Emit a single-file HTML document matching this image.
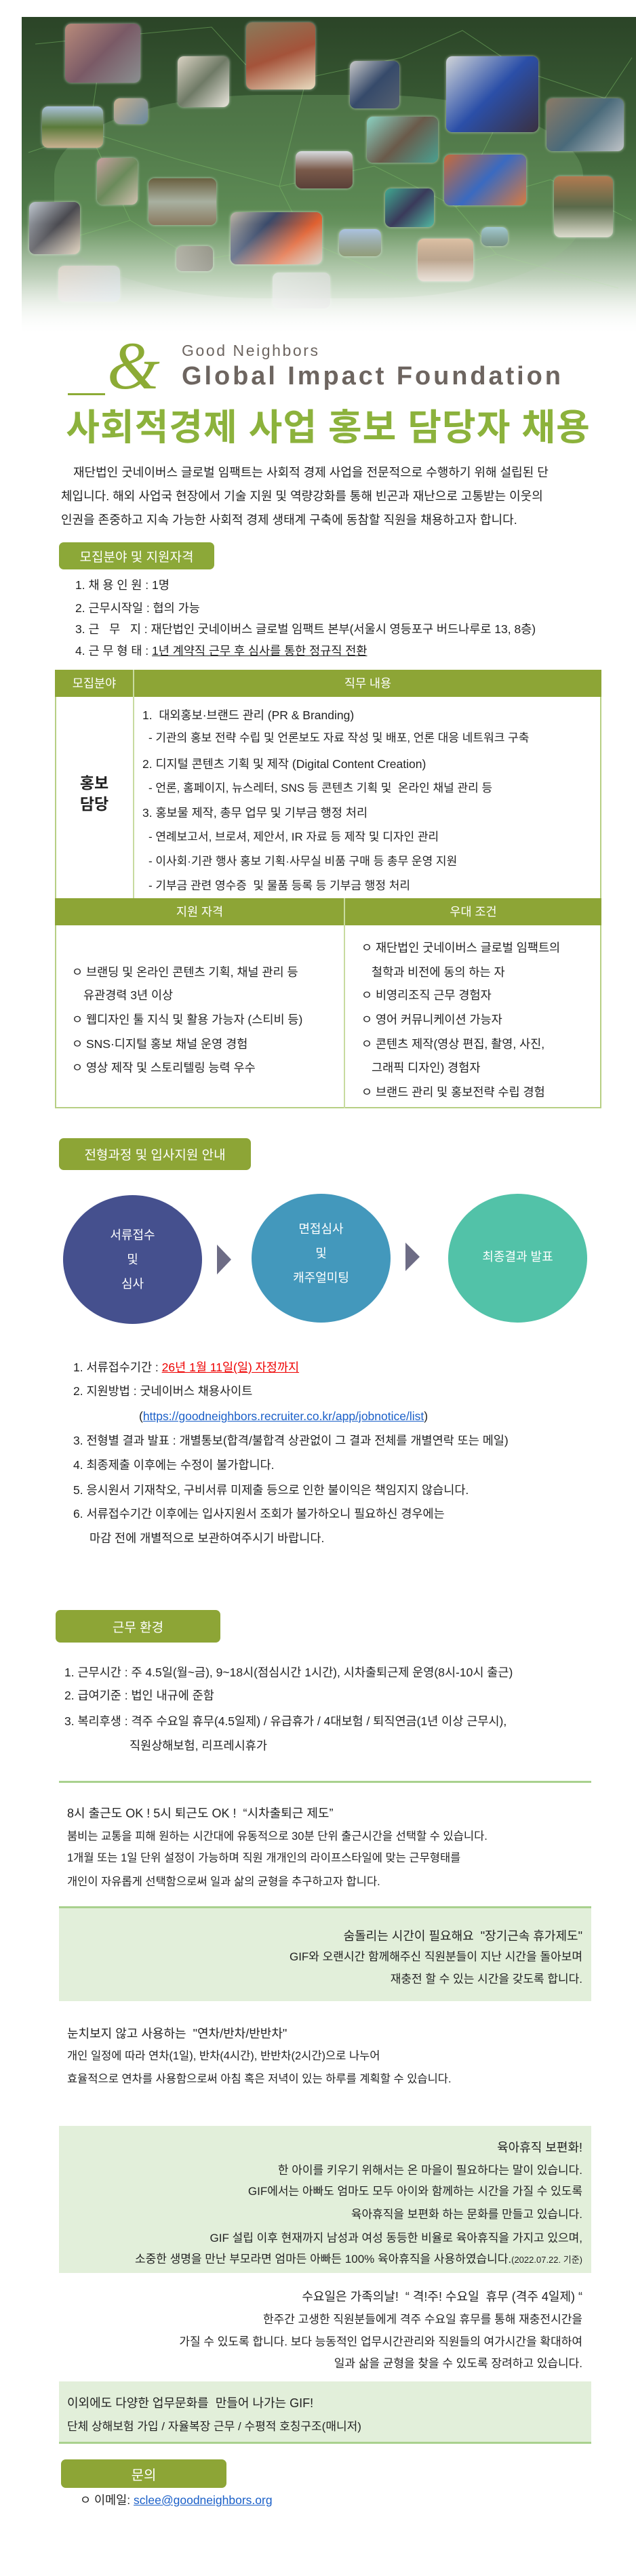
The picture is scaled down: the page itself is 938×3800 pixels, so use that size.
<!DOCTYPE html>
<html><head><meta charset="utf-8">
<style>
*{margin:0;padding:0;box-sizing:border-box}
body{width:938px;height:3800px;position:relative;background:#fff;font-family:"Liberation Sans","Noto Sans CJK KR",sans-serif;color:#222;overflow:hidden}
.a{position:absolute;white-space:nowrap}
.l{position:absolute;white-space:nowrap;line-height:24px;height:24px;font-size:17.5px}
.btn{position:absolute;background:#8ca838;border-radius:7px;color:#fff;font-size:19px;display:flex;align-items:center;justify-content:center}
.ph{position:absolute;border-radius:9px;box-shadow:0 0 4px rgba(255,255,255,.6)}
.r{position:absolute;right:79px;white-space:nowrap;line-height:24px;height:24px;font-size:17px;text-align:right}
.w{color:#fff}
.bx{position:absolute;left:87px;width:785px;background:#e2efda}
</style></head><body>

<!-- header image -->
<div class="a" style="left:32px;top:25px;width:906px;height:470px;background:linear-gradient(180deg,#2b4427 0%,#3b5e36 35%,#4f7a48 60%,#8fae88 82%,#fff 100%)"></div>
<div class="a" style="left:80px;top:140px;width:780px;height:300px;border-radius:40%;background:rgba(120,170,110,.35)"></div>
<svg class="a" style="left:32px;top:25px" width="906" height="470">
<g stroke="#7fbf6a" stroke-width="1" opacity=".5" fill="none">
<polyline points="20,40 120,30 280,15 330,70 420,90 560,60 650,20 740,80 860,120 900,60"/>
<polyline points="10,200 100,170 230,210 380,250 520,220 640,280 780,240 900,300"/>
<polyline points="60,330 160,300 260,360 420,330 560,390 700,350 880,400"/>
<polyline points="120,30 100,170 160,300"/><polyline points="420,90 380,250 420,330"/><polyline points="740,80 640,280 700,350"/>
</g></svg>
<div class="ph" style="left:96px;top:35px;width:111px;height:87px;background:linear-gradient(135deg,#b88a7a,#7a5a66,#8a8f90)"></div>
<div class="ph" style="left:262px;top:83px;width:76px;height:75px;background:linear-gradient(135deg,#d9d2c2,#6f7a66,#eae6dd)"></div>
<div class="ph" style="left:363px;top:33px;width:102px;height:99px;background:linear-gradient(160deg,#8a7a5a,#a4533a,#e8dcc0)"></div>
<div class="ph" style="left:516px;top:90px;width:73px;height:70px;background:linear-gradient(135deg,#c8c8c8,#364a6a,#556070)"></div>
<div class="ph" style="left:658px;top:83px;width:136px;height:112px;background:linear-gradient(135deg,#d0d4d8,#2b4fa8,#3a3040)"></div>
<div class="ph" style="left:806px;top:145px;width:114px;height:78px;background:linear-gradient(135deg,#8a7a66,#4a6a7a,#c0c4c8)"></div>
<div class="ph" style="left:168px;top:145px;width:50px;height:38px;background:linear-gradient(135deg,#c8b090,#6a8aa0)"></div>
<div class="ph" style="left:62px;top:157px;width:90px;height:61px;background:linear-gradient(180deg,#a8c0d8,#5a7a3a,#c8b090)"></div>
<div class="ph" style="left:541px;top:172px;width:105px;height:68px;background:linear-gradient(135deg,#8ad0c0,#6a5a4a,#4aa090)"></div>
<div class="ph" style="left:436px;top:223px;width:84px;height:55px;background:linear-gradient(180deg,#d8dce0,#7a5a4a,#5a4038)"></div>
<div class="ph" style="left:655px;top:228px;width:121px;height:75px;background:linear-gradient(135deg,#c86a3a,#3a6ac0,#d87a40)"></div>
<div class="ph" style="left:143px;top:233px;width:60px;height:69px;background:linear-gradient(135deg,#c8a0a0,#6a8a5a,#d0c0b0)"></div>
<div class="ph" style="left:219px;top:263px;width:100px;height:69px;background:linear-gradient(180deg,#6a6040,#a8b0a0,#8a7a60)"></div>
<div class="ph" style="left:817px;top:260px;width:87px;height:90px;background:linear-gradient(180deg,#b07a50,#5a6a4a,#d8d8c8)"></div>
<div class="ph" style="left:43px;top:298px;width:75px;height:77px;background:linear-gradient(135deg,#c0c8d0,#4a4a50,#d8c8b0)"></div>
<div class="ph" style="left:568px;top:278px;width:72px;height:57px;background:linear-gradient(135deg,#40a890,#3a3a5a,#50b8a0)"></div>
<div class="ph" style="left:340px;top:313px;width:135px;height:77px;background:linear-gradient(135deg,#c0b8a8,#3a4a6a,#e06030,#c8c0b0)"></div>
<div class="ph" style="left:500px;top:338px;width:62px;height:40px;background:linear-gradient(180deg,#a8c0e0,#6a7a4a)"></div>
<div class="ph" style="left:710px;top:335px;width:39px;height:28px;background:linear-gradient(180deg,#a0c8d0,#5a7a6a)"></div>
<div class="ph" style="left:616px;top:352px;width:82px;height:63px;background:linear-gradient(180deg,#d8b898,#a08060,#d8c8b8)"></div>
<div class="ph" style="left:260px;top:363px;width:54px;height:37px;background:linear-gradient(135deg,#a0a090,#6a6a5a)"></div>
<div class="ph" style="left:86px;top:392px;width:91px;height:53px;background:linear-gradient(135deg,#e8c8c0,#c0d0e0);opacity:.7"></div>
<div class="ph" style="left:402px;top:402px;width:85px;height:53px;background:linear-gradient(135deg,#e0e0e0,#c0c0c0);opacity:.7"></div>
<div class="a" style="left:32px;top:330px;width:906px;height:165px;background:linear-gradient(180deg,rgba(255,255,255,0),rgba(255,255,255,.55) 60%,#fff)"></div>

<!-- logo -->
<div class="a" style="left:100px;top:580px;width:55px;height:3px;background:#8cab35"></div>
<div class="a" style="left:158px;top:490px;font-family:'Liberation Serif',serif;font-style:italic;font-size:100px;line-height:100px;color:#8cab35">&amp;</div>
<svg class="a" style="left:0;top:495px" width="938" height="100">
<text x="268" y="30" font-family="Liberation Sans" font-size="23" fill="#6d6560" textLength="201">Good Neighbors</text>
<text x="268" y="72" font-family="Liberation Sans" font-weight="bold" font-size="38" fill="#6d6560" textLength="559">Global Impact Foundation</text>
</svg>

<div class="a" style="left:72px;top:598px;width:824px;text-align:center;font-size:54px;line-height:66px;font-weight:bold;color:#8cb23c;letter-spacing:1px">사회적경제 사업 홍보 담당자 채용</div>

<div class="l" style="left:108px;top:685px;font-size:18px">재단법인 굿네이버스 글로벌 임팩트는 사회적 경제 사업을 전문적으로 수행하기 위해 설립된 단</div>
<div class="l" style="left:90px;top:720px;font-size:18px">체입니다. 해외 사업국 현장에서 기술 지원 및 역량강화를 통해 빈곤과 재난으로 고통받는 이웃의</div>
<div class="l" style="left:90px;top:755px;font-size:18px">인권을 존중하고 지속 가능한 사회적 경제 생태계 구축에 동참할 직원을 채용하고자 합니다.</div>

<div class="btn" style="left:87px;top:800px;width:229px;height:40px">모집분야 및 지원자격</div>
<div class="l" style="left:111px;top:851px">1. 채 용 인 원 : 1명</div>
<div class="l" style="left:111px;top:885px">2. 근무시작일 : 협의 가능</div>
<div class="l" style="left:111px;top:916px">3. 근&nbsp;&nbsp; 무&nbsp;&nbsp; 지 : 재단법인 굿네이버스 글로벌 임팩트 본부(서울시 영등포구 버드나루로 13, 8층)</div>
<div class="l" style="left:111px;top:948px">4. 근 무 형 태 : <u>1년 계약직 근무 후 심사를 통한 정규직 전환</u></div>

<!-- table -->
<div class="a" style="left:81px;top:988px;width:806px;height:647px;border:2px solid #b7cf84"></div>
<div class="a" style="left:81px;top:988px;width:806px;height:40px;background:#8da536"></div>
<div class="a" style="left:196px;top:988px;width:2px;height:337px;background:#c8dba0"></div>
<div class="a w" style="left:81px;top:996px;width:116px;text-align:center;font-size:17.5px;line-height:24px">모집분야</div>
<div class="a w" style="left:198px;top:996px;width:689px;text-align:center;font-size:17.5px;line-height:24px">직무 내용</div>
<div class="a" style="left:81px;top:1140px;width:116px;text-align:center;font-size:23px;line-height:31px;font-weight:bold">홍보<br>담당</div>
<div class="l" style="left:210px;top:1043px">1.&nbsp; 대외홍보·브랜드 관리 (PR &amp; Branding)</div>
<div class="l" style="left:219px;top:1077px;font-size:17px">- 기관의 홍보 전략 수립 및 언론보도 자료 작성 및 배포, 언론 대응 네트워크 구축</div>
<div class="l" style="left:210px;top:1115px">2. 디지털 콘텐츠 기획 및 제작 (Digital Content Creation)</div>
<div class="l" style="left:219px;top:1151px;font-size:17px">- 언론, 홈페이지, 뉴스레터, SNS 등 콘텐츠 기획 및&nbsp; 온라인 채널 관리 등</div>
<div class="l" style="left:210px;top:1187px">3. 홍보물 제작, 총무 업무 및 기부금 행정 처리</div>
<div class="l" style="left:219px;top:1223px;font-size:17px">- 연례보고서, 브로셔, 제안서, IR 자료 등 제작 및 디자인 관리</div>
<div class="l" style="left:219px;top:1259px;font-size:17px">- 이사회·기관 행사 홍보 기획·사무실 비품 구매 등 총무 운영 지원</div>
<div class="l" style="left:219px;top:1295px;font-size:17px">- 기부금 관련 영수증&nbsp; 및 물품 등록 등 기부금 행정 처리</div>
<div class="a" style="left:81px;top:1325px;width:806px;height:40px;background:#8da536"></div>
<div class="a" style="left:507px;top:1325px;width:2px;height:310px;background:#c8dba0"></div>
<div class="a w" style="left:81px;top:1333px;width:427px;text-align:center;font-size:17.5px;line-height:24px">지원 자격</div>
<div class="a w" style="left:509px;top:1333px;width:378px;text-align:center;font-size:17.5px;line-height:24px">우대 조건</div>
<div class="l" style="left:106px;top:1422px">ㅇ 브랜딩 및 온라인 콘텐츠 기획, 채널 관리 등</div>
<div class="l" style="left:123px;top:1456px">유관경력 3년 이상</div>
<div class="l" style="left:106px;top:1492px">ㅇ 웹디자인 툴 지식 및 활용 가능자 (스티비 등)</div>
<div class="l" style="left:106px;top:1528px">ㅇ SNS·디지털 홍보 채널 운영 경험</div>
<div class="l" style="left:106px;top:1563px">ㅇ 영상 제작 및 스토리텔링 능력 우수</div>
<div class="l" style="left:533px;top:1386px">ㅇ 재단법인 굿네이버스 글로벌 임팩트의</div>
<div class="l" style="left:548px;top:1422px">철학과 비전에 동의 하는 자</div>
<div class="l" style="left:533px;top:1456px">ㅇ 비영리조직 근무 경험자</div>
<div class="l" style="left:533px;top:1492px">ㅇ 영어 커뮤니케이션 가능자</div>
<div class="l" style="left:533px;top:1528px">ㅇ 콘텐츠 제작(영상 편집, 촬영, 사진,</div>
<div class="l" style="left:548px;top:1563px">그래픽 디자인) 경험자</div>
<div class="l" style="left:533px;top:1599px">ㅇ 브랜드 관리 및 홍보전략 수립 경험</div>

<div class="btn" style="left:87px;top:1679px;width:283px;height:47px;background:#8da536">전형과정 및 입사지원 안내</div>

<div class="a" style="left:93px;top:1763px;width:205px;height:190px;border-radius:50%;background:#45508e"></div>
<div class="a" style="left:371px;top:1761px;width:205px;height:190px;border-radius:50%;background:#4398bc"></div>
<div class="a" style="left:661px;top:1761px;width:205px;height:190px;border-radius:50%;background:#52c2a8"></div>
<svg class="a" style="left:0;top:1830px" width="938" height="60">
<polygon points="320,6 341,28 320,50" fill="#6d6c85"/><polygon points="598,3 619,24 598,45" fill="#6d6c85"/></svg>
<div class="a w" style="left:93px;top:1804px;width:205px;text-align:center;font-size:18px;line-height:36px">서류접수<br>및<br>심사</div>
<div class="a w" style="left:371px;top:1795px;width:205px;text-align:center;font-size:18px;line-height:36px">면접심사<br>및<br>캐주얼미팅</div>
<div class="a w" style="left:661px;top:1839px;width:205px;text-align:center;font-size:18px;line-height:30px">최종결과 발표</div>

<div class="l" style="left:108px;top:2005px">1. 서류접수기간 : <span style="color:#e00;text-decoration:underline">26년 1월 11일(일) 자정까지</span></div>
<div class="l" style="left:108px;top:2040px">2. 지원방법 : 굿네이버스 채용사이트</div>
<div class="l" style="left:205px;top:2077px">(<span style="color:#1a5fc8;text-decoration:underline">https://goodneighbors.recruiter.co.kr/app/jobnotice/list</span>)</div>
<div class="l" style="left:108px;top:2113px">3. 전형별 결과 발표 : 개별통보(합격/불합격 상관없이 그 결과 전체를 개별연락 또는 메일)</div>
<div class="l" style="left:108px;top:2149px">4. 최종제출 이후에는 수정이 불가합니다.</div>
<div class="l" style="left:108px;top:2186px">5. 응시원서 기재착오, 구비서류 미제출 등으로 인한 불이익은 책임지지 않습니다.</div>
<div class="l" style="left:108px;top:2221px">6. 서류접수기간 이후에는 입사지원서 조회가 불가하오니 필요하신 경우에는</div>
<div class="l" style="left:132px;top:2257px">마감 전에 개별적으로 보관하여주시기 바랍니다.</div>

<div class="btn" style="left:82px;top:2375px;width:243px;height:48px;background:#8da536">근무 환경</div>
<div class="l" style="left:95px;top:2455px">1. 근무시간 : 주 4.5일(월~금), 9~18시(점심시간 1시간), 시차출퇴근제 운영(8시-10시 출근)</div>
<div class="l" style="left:95px;top:2489px">2. 급여기준 : 법인 내규에 준함</div>
<div class="l" style="left:95px;top:2527px">3. 복리후생 : 격주 수요일 휴무(4.5일제) / 유급휴가 / 4대보험 / 퇴직연금(1년 이상 근무시),</div>
<div class="l" style="left:191px;top:2563px">직원상해보험, 리프레시휴가</div>

<div class="a" style="left:87px;top:2627px;width:785px;height:3px;background:#a9d18e"></div>
<div class="l" style="left:99px;top:2663px;font-size:18px">8시 출근도 OK ! 5시 퇴근도 OK !&nbsp; “시차출퇴근 제도”</div>
<div class="l" style="left:99px;top:2697px;font-size:16.5px">붐비는 교통을 피해 원하는 시간대에 유동적으로 30분 단위 출근시간을 선택할 수 있습니다.</div>
<div class="l" style="left:99px;top:2729px;font-size:16.5px">1개월 또는 1일 단위 설정이 가능하며 직원 개개인의 라이프스타일에 맞는 근무형태를</div>
<div class="l" style="left:99px;top:2764px;font-size:16.5px">개인이 자유롭게 선택함으로써 일과 삶의 균형을 추구하고자 합니다.</div>

<div class="bx" style="top:2812px;height:140px;border-top:3px solid #a9d18e"></div>
<div class="r" style="top:2844px;font-size:18px">숨돌리는 시간이 필요해요&nbsp; "장기근속 휴가제도"</div>
<div class="r" style="top:2875px">GIF와 오랜시간 함께해주신 직원분들이 지난 시간을 돌아보며</div>
<div class="r" style="top:2908px">재충전 할 수 있는 시간을 갖도록 합니다.</div>

<div class="l" style="left:99px;top:2988px;font-size:18px">눈치보지 않고 사용하는&nbsp; "연차/반차/반반차"</div>
<div class="l" style="left:99px;top:3021px;font-size:16.5px">개인 일정에 따라 연차(1일), 반차(4시간), 반반차(2시간)으로 나누어</div>
<div class="l" style="left:99px;top:3055px;font-size:16.5px">효율적으로 연차를 사용함으로써 아침 혹은 저녁이 있는 하루를 계획할 수 있습니다.</div>

<div class="bx" style="top:3136px;height:217px"></div>
<div class="r" style="top:3156px;font-size:18px">육아휴직 보편화!</div>
<div class="r" style="top:3190px">한 아이를 키우기 위해서는 온 마을이 필요하다는 말이 있습니다.</div>
<div class="r" style="top:3221px">GIF에서는 아빠도 엄마도 모두 아이와 함께하는 시간을 가질 수 있도록</div>
<div class="r" style="top:3255px">육아휴직을 보편화 하는 문화를 만들고 있습니다.</div>
<div class="r" style="top:3290px">GIF 설립 이후 현재까지 남성과 여성 동등한 비율로 육아휴직을 가지고 있으며,</div>
<div class="r" style="top:3321px">소중한 생명을 만난 부모라면 엄마든 아빠든 100% 육아휴직을 사용하였습니다.<span style="font-size:13px">(2022.07.22. 기준)</span></div>

<div class="r" style="top:3376px;font-size:18px">수요일은 가족의날!&nbsp; “ 격!주! 수요일&nbsp; 휴무 (격주 4일제) “</div>
<div class="r" style="top:3410px">한주간 고생한 직원분들에게 격주 수요일 휴무를 통해 재충전시간을</div>
<div class="r" style="top:3443px">가질 수 있도록 합니다. 보다 능동적인 업무시간관리와 직원들의 여가시간을 확대하여</div>
<div class="r" style="top:3475px">일과 삶을 균형을 찾을 수 있도록 장려하고 있습니다.</div>

<div class="bx" style="top:3513px;height:92px;border-bottom:3px solid #a9d18e"></div>
<div class="l" style="left:99px;top:3533px;font-size:18px">이외에도 다양한 업무문화를&nbsp; 만들어 나가는 GIF!</div>
<div class="l" style="left:99px;top:3568px;font-size:17px">단체 상해보험 가입 / 자율복장 근무 / 수평적 호칭구조(매니저)</div>

<div class="btn" style="left:90px;top:3628px;width:244px;height:42px;background:#8da536;font-size:20px">문의</div>
<div class="l" style="left:118px;top:3676px">ㅇ 이메일: <span style="color:#1a5fc8;text-decoration:underline">sclee@goodneighbors.org</span></div>
</body></html>
